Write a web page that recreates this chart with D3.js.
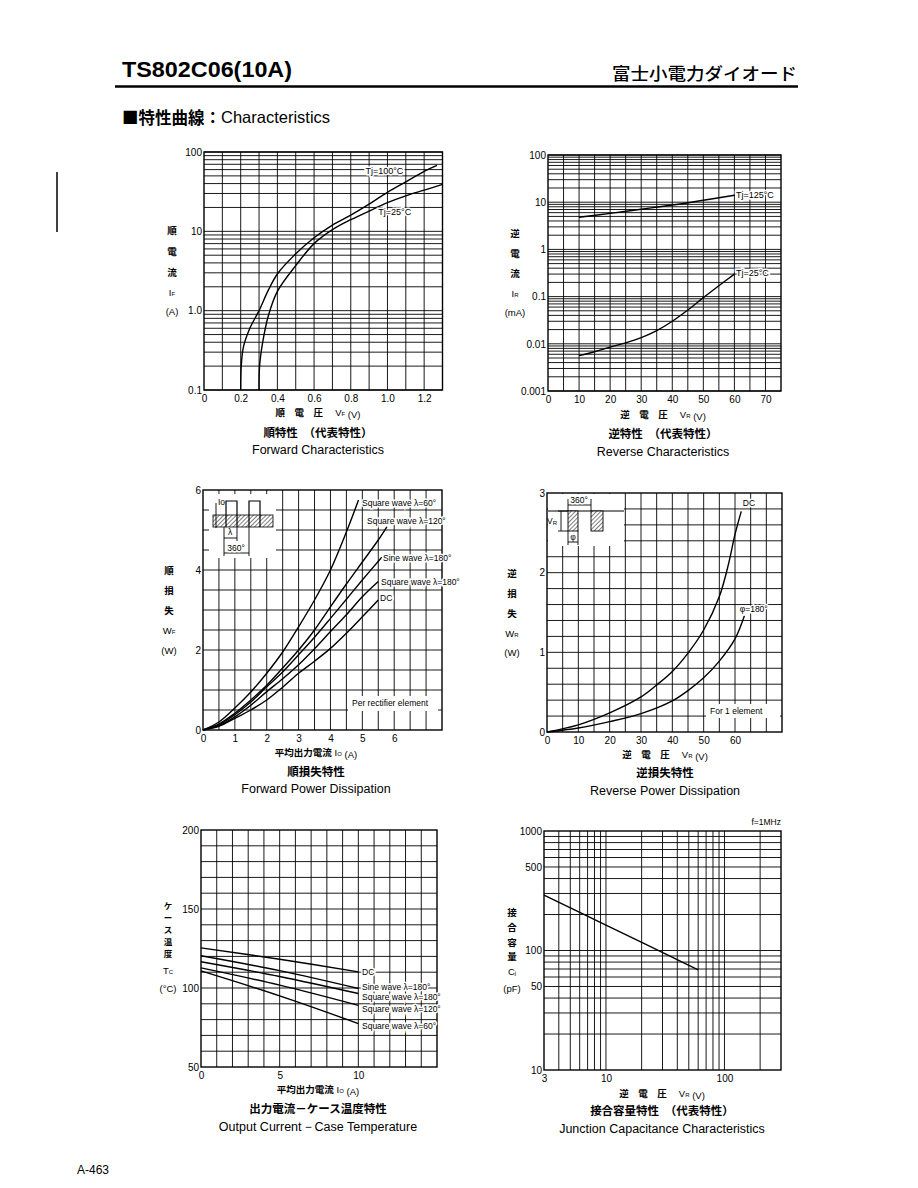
<!DOCTYPE html>
<html><head><meta charset="utf-8">
<script src="https://cdn.jsdelivr.net/npm/d3@7"></script>
<style>body{margin:0;background:#fff}</style>
</head><body>
<svg id="c" width="918" height="1188" xmlns="http://www.w3.org/2000/svg"></svg>
<script>
// ---------- DATA ----------
// Forward characteristics (VF [V], IF [A])
const fwdVf100 = [0.2,0.203,0.215,0.25,0.3,0.35,0.4,0.5,0.6,0.7,0.8,0.9,1.0,1.1,1.2,1.27];
const fwdIf100 = [0.1,0.2,0.35,0.6,1.0,1.8,2.9,5.2,8.3,12,16,22,31,42,57,68];
const fwdVf25  = [0.3,0.303,0.32,0.35,0.4,0.5,0.6,0.7,0.8,0.9,1.0,1.1,1.2,1.3];
const fwdIf25  = [0.1,0.2,0.4,0.85,1.75,3.7,7,10.5,14,18,23,28,33,39];
const fwdXTicks = [0,0.2,0.4,0.6,0.8,1.0,1.2];
const fwdXLabels = ["0","0.2","0.4","0.6","0.8","1.0","1.2"];
const fwdYTicks = [0.1,1,10,100];
const fwdYLabels = ["0.1","1.0","10","100"];

// Reverse characteristics (VR [V], IR [mA])
const revV125 = [10,20,30,40,50,60];
const revI125 = [4.8,5.8,7.1,8.7,11,14];
const revV25 = [10,15,20,25,30,35,40,45,50,55,60];
const revI25 = [0.0056,0.0068,0.0085,0.0105,0.0135,0.019,0.03,0.052,0.095,0.17,0.30];
const revXTicks = [0,10,20,30,40,50,60,70];
const revXLabels = ["0","10","20","30","40","50","60","70"];
const revYTicks = [0.001,0.01,0.1,1,10,100];
const revYLabels = ["0.001","0.01","0.1","1","10","100"];

// Forward power dissipation (Io [A], WF [W])
const fpdIo = [0,0.5,1,1.5,2,2.5,3,3.5,4,4.5,5,5.5];
const fpdSq60  = [0,0.2,0.55,0.95,1.42,1.95,2.58,3.25,4.0,4.95];
const fpdSq60End = [4.88,5.75];
const fpdSq120 = [0,0.15,0.42,0.75,1.12,1.55,2.0,2.5,3.08,3.65,4.2,4.75];
const fpdSq120End = [5.77,5.08];
const fpdSine180 = [0,0.13,0.38,0.7,1.08,1.45,1.88,2.32,2.79,3.27,3.75];
const fpdSine180End = [5.61,4.32];
const fpdSq180 = [0,0.11,0.33,0.62,0.96,1.28,1.63,2.03,2.46,2.88,3.33,3.71];
const fpdDC = [0,0.09,0.29,0.5,0.75,1.07,1.42,1.72,2.04,2.42,2.83,3.25];
const fpdXTicks = [0,1,2,3,4,5,6];
const fpdXLabels = ["0","1","2","3","4","5","6"];
const fpdYTicks = [0,2,4,6];
const fpdYLabels = ["0","2","4","6"];

// Reverse power dissipation (VR [V], WR [W])
const rpdVdc = [0,10,20,30,35,40,45,50,55,58,60,62];
const rpdWdc = [0,0.09,0.24,0.44,0.59,0.76,0.99,1.28,1.7,2.12,2.48,2.77];
const rpdV180 = [0,10,20,30,40,45,50,55,60,63];
const rpdW180 = [0,0.05,0.13,0.23,0.39,0.52,0.68,0.89,1.17,1.46];
const rpdXTicks = [0,10,20,30,40,50,60];
const rpdXLabels = ["0","10","20","30","40","50","60"];
const rpdYTicks = [0,1,2,3];
const rpdYLabels = ["0","1","2","3"];

// Output current - case temperature (Io [A], Tc [°C])
const tcIo = [0,5,10];
const tcDC = [125.4,118.2,110.2];
const tcSine180 = [120.4,111,99.7];
const tcSq180 = [116.6,107.3,96.5];
const tcSq120 = [112.7,101.8,89];
const tcSq60 = [110.8,95,77.5];
const tcXTicks = [0,5,10];
const tcXLabels = ["0","5","10"];
const tcYTicks = [50,100,150,200];
const tcYLabels = ["50","100","150","200"];

// Junction capacitance (VR [V], Cj [pF])
const cjV = [3,10,60];
const cjC = [290,163,69];
const cjXTicks = [3,10,100];
const cjXLabels = ["3","10","100"];
const cjYTicks = [10,50,100,500,1000];
const cjYLabels = ["10","50","100","500","1000"];

// ---------- DRAWING ----------
const svg = d3.select("#c");
svg.append("rect").attr("width",918).attr("height",1188).attr("fill","#fff");
const defs = svg.append("defs");
const pat = defs.append("pattern").attr("id","hatch").attr("patternUnits","userSpaceOnUse")
  .attr("width",3).attr("height",3).attr("patternTransform","rotate(45)");
pat.append("rect").attr("width",3).attr("height",3).attr("fill","#fff");
pat.append("line").attr("x1",0).attr("y1",0).attr("x2",0).attr("y2",3).attr("stroke","#000").attr("stroke-width",1);

const SANS = "'Liberation Sans', Arial, sans-serif";
const JP = "'Noto Sans CJK JP', sans-serif";

function logMinors(a,b){
  const out=[];
  for(let e=Math.floor(Math.log10(a)); e<=Math.ceil(Math.log10(b)); e++){
    for(let m=1;m<10;m++){const v=m*Math.pow(10,e); if(v>=a*0.999 && v<=b*1.001) out.push(v);}
  }
  return out;
}
function steps(a,b,s){const out=[];for(let v=a;v<=b+1e-9;v+=s) out.push(+v.toFixed(6));return out;}

function chart(o){
  const g = svg.append("g").attr("transform",`translate(${o.left},${o.top})`);
  const x = (o.xlog? d3.scaleLog(): d3.scaleLinear()).domain(o.xdom).range([0,o.w]);
  const y = (o.ylog? d3.scaleLog(): d3.scaleLinear()).domain(o.ydom).range([o.h,0]);
  const gr = g.append("g").attr("stroke","#000").attr("stroke-width",0.9);
  gr.selectAll("line.v").data(o.xgrid).join("line").attr("class","v")
    .attr("x1",d=>x(d)).attr("x2",d=>x(d)).attr("y1",0).attr("y2",o.h);
  gr.selectAll("line.h").data(o.ygrid).join("line").attr("class","h")
    .attr("y1",d=>y(d)).attr("y2",d=>y(d)).attr("x1",0).attr("x2",o.w);
  g.append("rect").attr("width",o.w).attr("height",o.h).attr("fill","none")
    .attr("stroke","#000").attr("stroke-width",1.4);
  const ax = d3.axisBottom(x).tickValues(o.xticks).tickFormat((d,i)=>o.xlabels[i]).tickSize(0).tickPadding(5);
  const axg = g.append("g").attr("transform",`translate(0,${o.h})`).call(ax);
  axg.select(".domain").remove();
  axg.selectAll("text").attr("font-family",SANS).attr("font-size",10).attr("fill","#000");
  const ay = d3.axisLeft(y).tickValues(o.yticks).tickFormat((d,i)=>o.ylabels[i]).tickSize(0).tickPadding(2);
  const ayg = g.append("g").call(ay);
  ayg.select(".domain").remove();
  ayg.selectAll("text").attr("font-family",SANS).attr("font-size",10).attr("fill","#000");
  return {g,x,y};
}
function curve(c, xs, ys, sw){
  const pts = xs.map((v,i)=>[v,ys[i]]);
  c.g.append("path").datum(pts).attr("fill","none").attr("stroke","#000").attr("stroke-width",sw||1.4)
    .attr("stroke-linejoin","round")
    .attr("d", d3.line().x(d=>c.x(d[0])).y(d=>c.y(d[1])).curve(d3.curveCatmullRom.alpha(0.5)));
}
function label(g, x, y, txt, size, anchor, halo){
  const t = g.append("text").attr("x",x).attr("y",y).attr("font-family",SANS).attr("font-size",size||9)
    .attr("text-anchor",anchor||"start").attr("dominant-baseline","central").attr("fill","#000").text(txt);
  if(halo!==false) t.attr("stroke","#fff").attr("stroke-width",3).attr("paint-order","stroke");
  return t;
}
function ylabel(cx, ys, parts, size){
  parts.forEach((p,i)=>{
    const t = svg.append("text").attr("x",cx).attr("y",ys[i]).attr("text-anchor","middle")
      .attr("dominant-baseline","central").attr("font-size",size||9.5).attr("fill","#000");
    if(p[2]==="jp"){ t.attr("font-family",JP).attr("font-weight",700).text(p[0]); }
    else { t.attr("font-family",SANS).text(p[0]); if(p[1]) t.append("tspan").attr("font-size",6).attr("dy",1.5).text(p[1]); }
  });
}
function titles(cx, y1, axisParts, y2, jpTitle, y3, enTitle){
  const t = svg.append("text").attr("x",cx).attr("y",y1).attr("text-anchor","middle").attr("dominant-baseline","central")
    .attr("font-size",9.5).attr("fill","#000");
  axisParts.forEach(p=>{
    t.append("tspan").attr("font-family",p.jp?JP:SANS).attr("font-weight",p.jp?700:400).text(p.t);
    if(p.sub){ t.append("tspan").attr("font-family",SANS).attr("font-size",6).attr("dy",1.5).text(p.sub);
               t.append("tspan").attr("dy",-1.5).text(""); }
  });
  svg.append("text").attr("x",cx).attr("y",y2).attr("text-anchor","middle").attr("dominant-baseline","central")
    .attr("font-family",JP).attr("font-weight",700).attr("font-size",11.5).attr("fill","#000").text(jpTitle);
  svg.append("text").attr("x",cx).attr("y",y3).attr("text-anchor","middle").attr("dominant-baseline","central")
    .attr("font-family",SANS).attr("font-size",12.5).attr("fill","#000").text(enTitle);
}

// Header
svg.append("text").attr("x",122).attr("y",69).attr("dominant-baseline","central").attr("font-family",SANS)
  .attr("font-weight",700).attr("font-size",22).attr("textLength",170).attr("lengthAdjust","spacingAndGlyphs").text("TS802C06(10A)");
svg.append("text").attr("x",612).attr("y",72).attr("dominant-baseline","central").attr("font-family",JP)
  .attr("font-weight",500).attr("font-size",17).attr("textLength",185).attr("lengthAdjust","spacingAndGlyphs").text("富士小電力ダイオード");
svg.append("line").attr("x1",115).attr("x2",798).attr("y1",86.5).attr("y2",86.5).attr("stroke","#000").attr("stroke-width",2.5);
const sec = svg.append("text").attr("x",122).attr("y",117).attr("dominant-baseline","central").attr("font-size",16.5).attr("fill","#000");
sec.append("tspan").attr("font-family",JP).attr("font-weight",700).text("■特性曲線：");
sec.append("tspan").attr("font-family",SANS).text("Characteristics");
svg.append("line").attr("x1",57).attr("x2",57).attr("y1",172).attr("y2",232).attr("stroke","#000").attr("stroke-width",1.5);
svg.append("text").attr("x",77).attr("y",1170).attr("dominant-baseline","central").attr("font-family",SANS).attr("font-size",12).text("A-463");

// Chart 1: Forward characteristics
const c1 = chart({left:204,top:152,w:238.5,h:238,xdom:[0,1.3],ydom:[0.1,100],ylog:true,
  xgrid:steps(0.1,1.2,0.1), ygrid:logMinors(0.1,100), xticks:fwdXTicks,xlabels:fwdXLabels,yticks:fwdYTicks,ylabels:fwdYLabels});
curve(c1,fwdVf100,fwdIf100);
curve(c1,fwdVf25,fwdIf25);
label(c1.g, c1.x(0.88), c1.y(58), "Tj=100°C", 9);
label(c1.g, c1.x(0.95), c1.y(17.5), "Tj=25°C", 9);
ylabel(172,[230,251,272,292,311],[["順","", "jp"],["電","","jp"],["流","","jp"],["I","F"],["(A)",""]]);
titles(318,412,[{t:"順　電　圧　",jp:true},{t:"   V"},{t:"",sub:"F"},{t:"  (V)"}],432,"順特性　（代表特性）",450,"Forward Characteristics");

// Chart 2: Reverse characteristics
const c2 = chart({left:548,top:155,w:233,h:236,xdom:[0,75],ydom:[0.001,100],ylog:true,
  xgrid:steps(5,70,5), ygrid:logMinors(0.001,100), xticks:revXTicks,xlabels:revXLabels,yticks:revYTicks,ylabels:revYLabels});
curve(c2,revV125,revI125);
curve(c2,revV25,revI25);
label(c2.g, c2.x(60.5), c2.y(14), "Tj=125°C", 9);
label(c2.g, c2.x(60.5), c2.y(0.32), "Tj=25°C", 9);
ylabel(515,[233,253,273,293,312],[["逆","","jp"],["電","","jp"],["流","","jp"],["I","R"],["(mA)",""]]);
titles(663,414,[{t:"逆　電　圧　",jp:true},{t:"   V"},{t:"",sub:"R"},{t:"  (V)"}],433,"逆特性　（代表特性）",452,"Reverse Characteristics");

// Chart 3: Forward power dissipation
const c3 = chart({left:203,top:490,w:239,h:240,xdom:[0,7.5],ydom:[0,6],
  xgrid:steps(0.5,7,0.5), ygrid:steps(0.5,5.5,0.5), xticks:fpdXTicks,xlabels:fpdXLabels,yticks:fpdYTicks,ylabels:fpdYLabels});
curve(c3, fpdIo.slice(0,fpdSq60.length).concat([fpdSq60End[0]]), fpdSq60.concat([fpdSq60End[1]]));
curve(c3, fpdIo.concat([fpdSq120End[0]]), fpdSq120.concat([fpdSq120End[1]]));
curve(c3, fpdIo.slice(0,fpdSine180.length).concat([fpdSine180End[0]]), fpdSine180.concat([fpdSine180End[1]]));
curve(c3, fpdIo, fpdSq180);
curve(c3, fpdIo, fpdDC);
label(svg, 362, 503, "Square wave  λ=60°", 8.5);
label(svg, 367, 521, "Square wave  λ=120°", 8.5);
label(svg, 383, 558, "Sine wave  λ=180°", 8.5);
label(svg, 381, 582, "Square wave  λ=180°", 8.5);
label(svg, 380, 598, "DC", 8.5);
svg.append("rect").attr("x",348).attr("y",696).attr("width",90).attr("height",15).attr("fill","#fff");
label(svg, 352, 703, "Per rectifier element", 8.5, "start", false);
// inset waveform
svg.append("rect").attr("x",209).attr("y",494).attr("width",67).attr("height",64).attr("fill","#fff");
svg.append("rect").attr("x",213).attr("y",515).attr("width",60).attr("height",12).attr("fill","url(#hatch)").attr("stroke","#000").attr("stroke-width",0.8);
svg.append("path").attr("d","M226,527V501H237V527M249,527V501H260V527").attr("fill","none").attr("stroke","#000").attr("stroke-width",1.2);
svg.append("path").attr("d","M216,503V528M224,527V556M237,527V541M249,527V556M224,538H237M224,553H249").attr("fill","none").attr("stroke","#000").attr("stroke-width",0.9);
label(svg, 218, 502, "Io", 8.5, "start", false);
label(svg, 230, 532, "λ", 8.5, "middle", false);
label(svg, 236, 548, "360°", 8.5, "middle");
ylabel(169,[570,590,610,630,650],[["順","","jp"],["損","","jp"],["失","","jp"],["W","F"],["(W)",""]]);
titles(316,752,[{t:"平均出力電流",jp:true},{t:"      I"},{t:"",sub:"O"},{t:"  (A)"}],771,"順損失特性",789,"Forward Power Dissipation");

// Chart 4: Reverse power dissipation
const c4 = chart({left:547,top:493,w:235,h:239,xdom:[0,75],ydom:[0,3],
  xgrid:steps(5,70,5), ygrid:steps(0.2,2.8,0.2), xticks:rpdXTicks,xlabels:rpdXLabels,yticks:rpdYTicks,ylabels:rpdYLabels});
curve(c4, rpdVdc, rpdWdc);
curve(c4, rpdV180, rpdW180);
label(c4.g, c4.x(62.5), c4.y(2.88), "DC", 8.5);
label(c4.g, c4.x(61.5), c4.y(1.55), "φ=180°", 8.5);
svg.append("rect").attr("x",706).attr("y",704).attr("width",74).attr("height",14).attr("fill","#fff");
label(svg, 710, 711, "For 1 element", 8.5, "start", false);
// inset
svg.append("rect").attr("x",548).attr("y",494).attr("width",76).attr("height",52).attr("fill","#fff");
svg.append("line").attr("x1",548).attr("x2",624).attr("y1",511).attr("y2",511).attr("stroke","#000").attr("stroke-width",1);
svg.append("rect").attr("x",568).attr("y",511).attr("width",10).attr("height",20).attr("fill","url(#hatch)").attr("stroke","#000").attr("stroke-width",0.9);
svg.append("rect").attr("x",591).attr("y",511).attr("width",12).attr("height",20).attr("fill","url(#hatch)").attr("stroke","#000").attr("stroke-width",0.9);
svg.append("path").attr("d","M568,499V511M591,499V511M568,505H591M558,511H568M558,531H568M561,511V531M568,531V545M578,531V545M568,542H578").attr("fill","none").attr("stroke","#000").attr("stroke-width",0.9);
label(svg, 579, 500, "360°", 8.5, "middle");
const vr = label(svg, 547, 521, "V", 8.5, "start", false); vr.append("tspan").attr("font-size",6).attr("dy",1.5).text("R");
label(svg, 573, 537, "φ", 8.5, "middle", false);
ylabel(512,[573,593,613,633,652],[["逆","","jp"],["損","","jp"],["失","","jp"],["W","R"],["(W)",""]]);
titles(665,754,[{t:"逆　電　圧　",jp:true},{t:"   V"},{t:"",sub:"R"},{t:"  (V)"}],772,"逆損失特性",791,"Reverse Power Dissipation");

// Chart 5: Output current - case temperature
const c5 = chart({left:201,top:830,w:236,h:237,xdom:[0,15],ydom:[50,200],
  xgrid:steps(1,14,1), ygrid:steps(60,190,10), xticks:tcXTicks,xlabels:tcXLabels,yticks:tcYTicks,ylabels:tcYLabels});
curve(c5, tcIo, tcDC);
curve(c5, tcIo, tcSine180);
curve(c5, tcIo, tcSq180);
curve(c5, tcIo, tcSq120);
curve(c5, tcIo, tcSq60);
label(svg, 362, 972, "DC", 8.5);
label(svg, 362, 987, "Sine wave  λ=180°", 8.5);
label(svg, 362, 997, "Square wave  λ=180°", 8.5);
label(svg, 362, 1009, "Square wave  λ=120°", 8.5);
label(svg, 362, 1026, "Square wave  λ=60°", 8.5);
ylabel(168,[905,917,929,941,953],[["ケ","","jp"],["ー","","jp"],["ス","","jp"],["温","","jp"],["度","","jp"]],8.5);
ylabel(168,[970,988],[["T","C"],["(°C)",""]]);
titles(318,1089,[{t:"平均出力電流",jp:true},{t:"      I"},{t:"",sub:"O"},{t:"  (A)"}],1108,"出力電流－ケース温度特性",1127,"Output Current－Case Temperature");

// Chart 6: Junction capacitance
const c6 = chart({left:544,top:831,w:237,h:239,xdom:[3,300],ydom:[10,1000],xlog:true,ylog:true,
  xgrid:logMinors(4,200), ygrid:logMinors(20,900), xticks:cjXTicks,xlabels:cjXLabels,yticks:cjYTicks,ylabels:cjYLabels});
curve(c6, cjV, cjC);
label(svg, 781, 822, "f=1MHz", 8.5, "end", false);
ylabel(512,[912,927,942,956,971,988],[["接","","jp"],["合","","jp"],["容","","jp"],["量","","jp"],["C","j"],["(pF)",""]]);
titles(662,1093,[{t:"逆　電　圧　",jp:true},{t:"   V"},{t:"",sub:"R"},{t:"  (V)"}],1110,"接合容量特性　（代表特性）",1129,"Junction Capacitance Characteristics");
</script>
</body></html>
